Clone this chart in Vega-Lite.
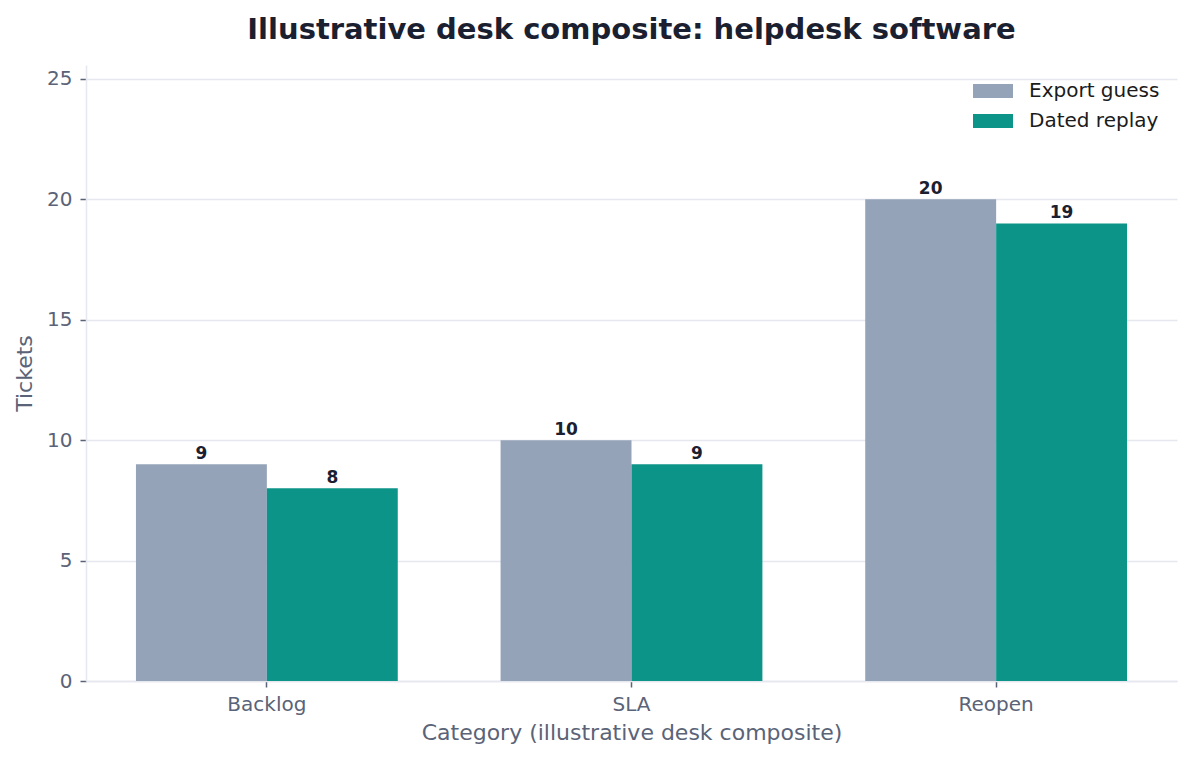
{
  "$schema": "https://vega.github.io/schema/vega-lite/v6.json",
  "autosize": "none",
  "padding": {"left": 86, "top": 65, "right": 16, "bottom": 79},
  "width": 1091,
  "height": 616,
  "background": "white",
  "title": {
    "text": "Illustrative desk composite: helpdesk software",
    "fontSize": 29,
    "fontWeight": "bold",
    "font": "DejaVu Sans",
    "color": "#1b2030",
    "anchor": "middle",
    "offset": 20
  },
  "config": {
    "font": "DejaVu Sans",
    "view": {"stroke": null}
  },
  "data": {
    "values": [
      {"category": "Backlog", "series": "Export guess", "tickets": 9},
      {"category": "Backlog", "series": "Dated replay", "tickets": 8},
      {"category": "SLA", "series": "Export guess", "tickets": 10},
      {"category": "SLA", "series": "Dated replay", "tickets": 9},
      {"category": "Reopen", "series": "Export guess", "tickets": 20},
      {"category": "Reopen", "series": "Dated replay", "tickets": 19}
    ]
  },
  "encoding": {
    "x": {
      "field": "category",
      "type": "nominal",
      "sort": ["Backlog", "SLA", "Reopen"],
      "title": "Category (illustrative desk composite)",
      "scale": {"paddingInner": 0.282, "paddingOuter": 0.137},
      "axis": {
        "labelAngle": 0,
        "labelFontSize": 20,
        "labelColor": "#5a6377",
        "labelPadding": 7,
        "titleFontSize": 22,
        "titleFontWeight": "normal",
        "titleColor": "#5a6377",
        "titlePadding": 8,
        "domainColor": "#e5e8ee",
        "domainWidth": 1.5,
        "tickColor": "#5a6377",
        "tickSize": 6,
        "tickWidth": 1.5,
        "grid": false
      }
    },
    "xOffset": {
      "field": "series",
      "type": "nominal",
      "sort": ["Export guess", "Dated replay"],
      "scale": {"paddingInner": 0, "paddingOuter": 0}
    },
    "y": {
      "field": "tickets",
      "type": "quantitative",
      "title": "Tickets",
      "scale": {"domain": [0, 25.58], "nice": false},
      "axis": {
        "values": [0, 5, 10, 15, 20, 25],
        "labelFontSize": 20,
        "labelColor": "#5a6377",
        "labelPadding": 8,
        "titleFontSize": 22,
        "titleFontWeight": "normal",
        "titleColor": "#5a6377",
        "titlePadding": 10,
        "domainColor": "#e5e8ee",
        "domainWidth": 1.5,
        "tickColor": "#5a6377",
        "tickSize": 6,
        "tickWidth": 1.5,
        "gridColor": "#e5e8ee",
        "gridWidth": 1.5
      }
    }
  },
  "layer": [
    {
      "mark": {"type": "bar"},
      "encoding": {
        "color": {
          "field": "series",
          "type": "nominal",
          "sort": ["Export guess", "Dated replay"],
          "scale": {"domain": ["Export guess", "Dated replay"], "range": ["#94a3b8", "#0d9488"]},
          "legend": {
            "title": null,
            "orient": "none",
            "legendX": 887,
            "legendY": 6,
            "padding": 0,
            "symbolType": "M-1,-0.35H1V0.35H-1Z",
            "symbolSize": 1600,
            "symbolStrokeWidth": 0,
            "labelFontSize": 20,
            "labelColor": "#1b1b1b",
            "labelOffset": 16,
            "rowPadding": -11
          }
        }
      }
    },
    {
      "mark": {"type": "text", "baseline": "bottom", "dy": -1, "fontSize": 17, "fontWeight": "bold", "color": "#1b2030"},
      "encoding": {
        "text": {"field": "tickets", "type": "quantitative"}
      }
    }
  ]
}
